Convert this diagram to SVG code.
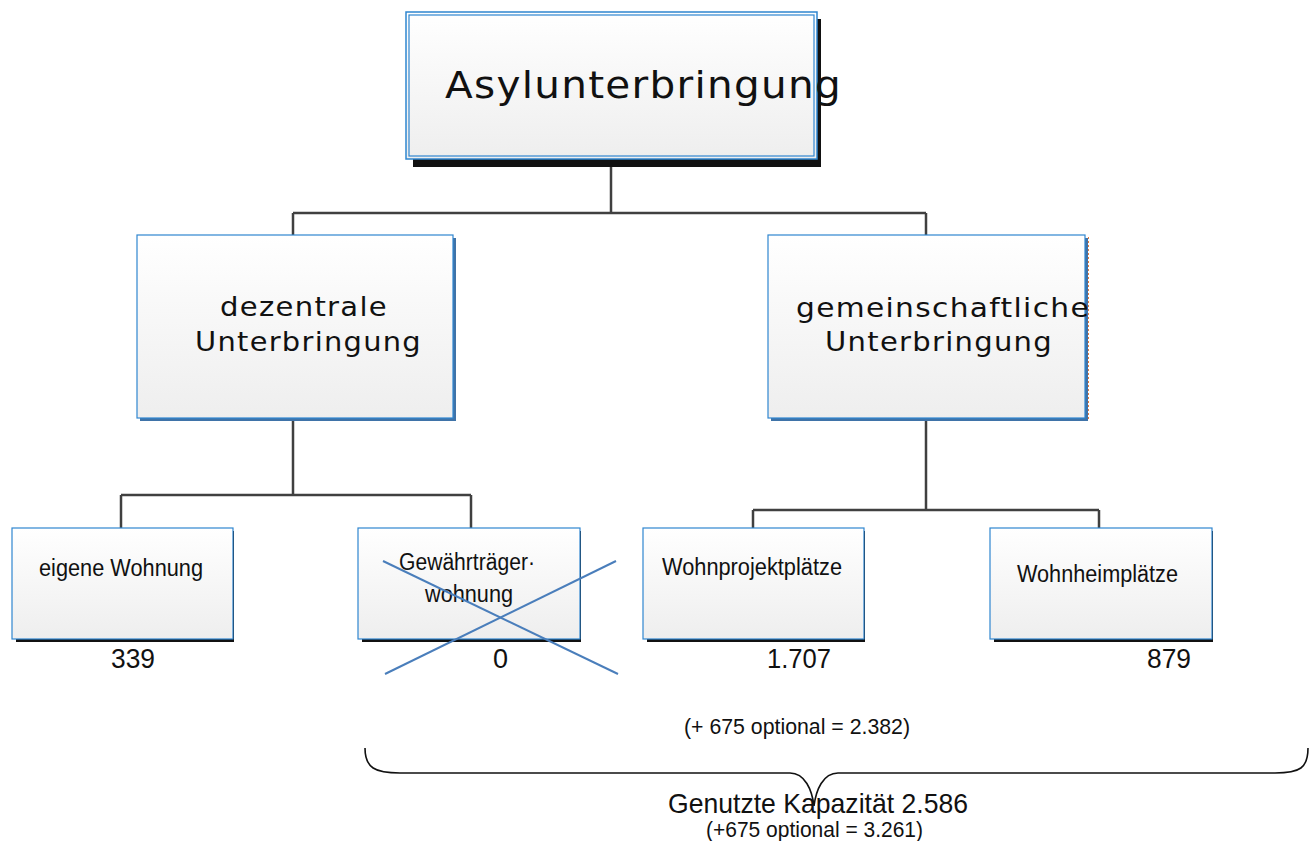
<svg xmlns="http://www.w3.org/2000/svg" width="1316" height="841" viewBox="0 0 1316 841">
  <defs>
    <linearGradient id="g" x1="0" y1="0" x2="0" y2="1">
      <stop offset="0" stop-color="#ffffff"/>
      <stop offset="1" stop-color="#eeeeee"/>
    </linearGradient>
  </defs>
  <style>
    .box{fill:url(#g);stroke:#2f86d0;stroke-width:1.2}
    .sh{fill:#111}
    .shb{fill:#3f73a8}
    .conn{fill:none;stroke:#404040;stroke-width:2.5}
    .big{font-family:"DejaVu Sans",Verdana,sans-serif;fill:#111;letter-spacing:1.2px}
    .lbl{font-family:"Liberation Sans",Arial,sans-serif;font-size:23.5px;fill:#111}
    .num{font-family:"Liberation Sans",Arial,sans-serif;font-size:27px;fill:#111}
    .note{font-family:"Liberation Sans",Arial,sans-serif;font-size:22px;fill:#111}
  </style>
  <rect width="1316" height="841" fill="#ffffff"/>

  <g id="connectors">
    <path class="conn" d="M611,167 V213 M293,213 H926 M293,213 V235 M926,213 V235"/>
    <path class="conn" d="M293,420 V495 M121,495 H471 M121,495 V528 M471,495 V528"/>
    <path class="conn" d="M926,420 V510 M753,510 H1099 M753,510 V528 M1099,510 V528"/>
  </g>

  <g id="node-asyl">
    <rect class="sh" x="413" y="19" width="408" height="148"/>
    <rect x="406" y="12" width="411" height="147" fill="url(#g)" stroke="#2f86d0" stroke-width="1.5"/>
    <rect x="409" y="15" width="405" height="141" fill="none" stroke="#2f86d0" stroke-width="1.2"/>
    <text class="big" x="445" y="98" font-size="38" textLength="397" lengthAdjust="spacingAndGlyphs">Asylunterbringung</text>
  </g>

  <g id="node-dezentral">
    <rect class="shb" x="140" y="238" width="316" height="183"/>
    <rect class="box" x="137" y="235" width="316" height="183"/>
    <text class="big" x="220" y="316" font-size="27" textLength="168" lengthAdjust="spacingAndGlyphs">dezentrale</text>
    <text class="big" x="195" y="351" font-size="27" textLength="227" lengthAdjust="spacingAndGlyphs">Unterbringung</text>
  </g>

  <g id="node-gemeinschaft">
    <rect class="shb" x="771" y="238" width="317" height="183"/>
    <rect class="box" x="768" y="235" width="317" height="183"/>
    <line x1="1088.5" y1="237" x2="1088.5" y2="419" stroke="#e07a40" stroke-width="1" stroke-dasharray="2 2"/>
    <text class="big" x="796" y="317" font-size="27" textLength="294" lengthAdjust="spacingAndGlyphs">gemeinschaftliche</text>
    <text class="big" x="825" y="351" font-size="27" textLength="228" lengthAdjust="spacingAndGlyphs">Unterbringung</text>
  </g>

  <g id="node-eigene">
    <rect class="sh" x="16" y="531" width="218" height="111"/>
    <rect class="box" x="12" y="528" width="221" height="111"/>
    <text class="lbl" x="39" y="576" textLength="164" lengthAdjust="spacingAndGlyphs">eigene Wohnung</text>
    <text class="num" x="111" y="668" textLength="44" lengthAdjust="spacingAndGlyphs">339</text>
  </g>

  <g id="node-gewaehr">
    <rect class="sh" x="362" y="531" width="219" height="111"/>
    <rect class="box" x="358" y="528" width="222" height="111"/>
    <text class="lbl" x="399" y="570" textLength="136" lengthAdjust="spacingAndGlyphs">Gewährträger·</text>
    <text class="lbl" x="425" y="602" textLength="88" lengthAdjust="spacingAndGlyphs">wohnung</text>
    <text class="num" x="493" y="668">0</text>
    <g stroke="#4a7ebb" stroke-width="2">
      <line x1="383" y1="561" x2="618" y2="674"/>
      <line x1="385" y1="674" x2="616" y2="561"/>
    </g>
  </g>

  <g id="node-wohnprojekt">
    <rect class="sh" x="647" y="531" width="218" height="111"/>
    <rect class="box" x="643" y="528" width="221" height="111"/>
    <text class="lbl" x="662" y="575" textLength="180" lengthAdjust="spacingAndGlyphs">Wohnprojektplätze</text>
    <text class="num" x="767" y="668" textLength="64" lengthAdjust="spacingAndGlyphs">1.707</text>
  </g>

  <g id="node-wohnheim">
    <rect class="sh" x="994" y="531" width="219" height="111"/>
    <rect class="box" x="990" y="528" width="222" height="111"/>
    <text class="lbl" x="1017" y="582" textLength="161" lengthAdjust="spacingAndGlyphs">Wohnheimplätze</text>
    <text class="num" x="1147" y="668" textLength="44" lengthAdjust="spacingAndGlyphs">879</text>
  </g>

  <g id="summary">
    <text class="note" x="684" y="734" textLength="226" lengthAdjust="spacingAndGlyphs">(+ 675 optional = 2.382)</text>
    <path d="M365,748 C365,768 375,773 400,773 L790,773 C805,773 812,790 814,806 C816,790 823,773 838,773 L1275,773 C1300,773 1308,768 1308,748" fill="none" stroke="#111" stroke-width="1.6"/>
    <text x="668" y="813" font-family="Liberation Sans, Arial, sans-serif" font-size="28" fill="#111" textLength="300" lengthAdjust="spacingAndGlyphs">Genutzte Kapazität 2.586</text>
    <text class="note" x="706" y="837" textLength="217" lengthAdjust="spacingAndGlyphs">(+675 optional = 3.261)</text>
  </g>
</svg>
